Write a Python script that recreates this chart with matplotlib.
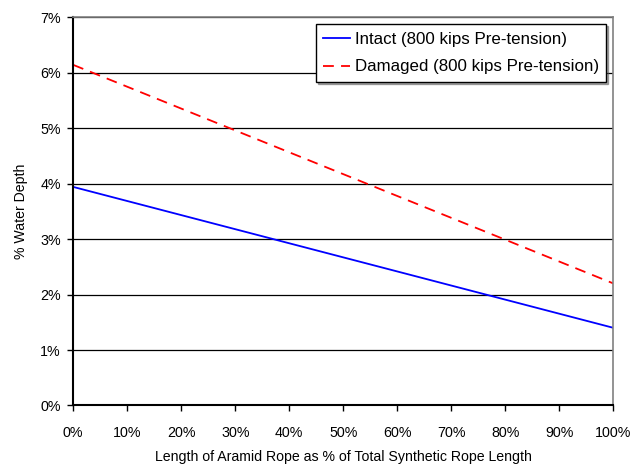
import matplotlib
matplotlib.use("Agg")
import matplotlib.pyplot as plt
from matplotlib.ticker import FuncFormatter, MultipleLocator

# Data
aramid_pct = [0, 50, 100]
intact = [3.94, 2.67, 1.40]
damaged = [6.14, 4.17, 2.20]

plt.rcParams['font.family'] = ['Liberation Sans', 'DejaVu Sans']

fig = plt.figure(figsize=(6.34, 4.69), dpi=100)
ax = fig.add_axes([0.1155, 0.1354, 0.852, 0.828])

ax.plot(aramid_pct, intact, color='#0000ff', lw=1.3, label='Intact (800 kips Pre-tension)')
ax.plot(aramid_pct, damaged, color='#ff0000', lw=1.3, ls=(0, (6, 4)),
        label='Damaged (800 kips Pre-tension)')

ax.set_xlim(0, 100)
ax.set_ylim(0, 7)
ax.xaxis.set_major_locator(MultipleLocator(10))
ax.yaxis.set_major_locator(MultipleLocator(1))
pct = FuncFormatter(lambda v, p: f"{v:.0f}%")
ax.xaxis.set_major_formatter(pct)
ax.yaxis.set_major_formatter(pct)
ax.tick_params(axis='both', direction='out', length=4, width=1, labelsize=10.3, color='black')
ax.tick_params(axis='x', pad=11)
ax.tick_params(axis='y', pad=5)

ax.yaxis.grid(True, color='#000000', lw=0.9)
ax.set_axisbelow(True)
for s in ['left', 'bottom']:
    ax.spines[s].set_color('black')
    ax.spines[s].set_linewidth(1.5)
for s in ['top', 'right']:
    ax.spines[s].set_color('#808080')
    ax.spines[s].set_linewidth(1.2)

ax.set_xlabel('Length of Aramid Rope as % of Total Synthetic Rope Length', fontsize=10.2, labelpad=7)
ax.set_ylabel('% Water Depth', fontsize=10.2, labelpad=9)

leg = ax.legend(loc='upper right', bbox_to_anchor=(0.987, 0.982), fontsize=12.2, handlelength=1.6,
                handletextpad=0.25, borderpad=0.45, labelspacing=0.75, fancybox=False,
                shadow={'ox': 1.5, 'oy': -1.5, 'color': '#555555'}, framealpha=1,
                edgecolor='black', borderaxespad=0)
leg.get_frame().set_linewidth(1)

fig.savefig('out.png', dpi=100, facecolor='white')
